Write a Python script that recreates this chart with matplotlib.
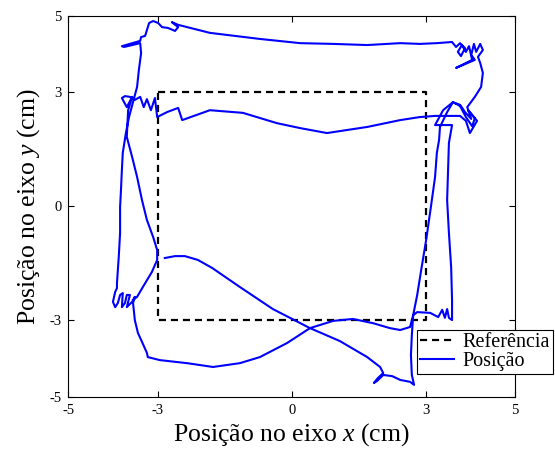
import numpy as np
import matplotlib.pyplot as plt

plt.rcParams['font.family'] = ['Liberation Serif', 'DejaVu Serif']
plt.rcParams['mathtext.fontset'] = 'custom'
plt.rcParams['mathtext.rm'] = 'Liberation Serif'
plt.rcParams['mathtext.it'] = 'Liberation Serif:italic'
plt.rcParams['axes.unicode_minus'] = False

# reference square (cm)
ref_x = [-3, 3, 3, -3, -3]
ref_y = [3, 3, -3, -3, 3]

# measured position of the end effector (cm)
pos_x = [-2.84, -2.61, -2.39, -2.10, -1.78, -1.16, -0.42, 0.41, 1.08, 1.69,
         1.98, 2.05, 1.93, 1.84, 1.91, 2.05, 2.25, 2.43, 2.65, 2.74,
         2.69, 2.67, 2.69, 2.72, 2.81, 2.90, 3.01, 3.12, 3.21, 3.25,
         3.30, 3.32, 3.48, 3.61, 3.77, 3.88, 4.02, 3.93, 4.10, 4.24,
         4.28, 4.22, 4.17, 4.28, 4.22, 4.13, 4.08, 4.02, 4.10, 3.68,
         4.04, 3.97, 3.90, 3.81, 3.72, 3.79, 3.88, 3.77, 3.68, 3.59,
         3.25, 2.87, 2.43, 1.69, 0.93, 0.19, -0.71, -1.83, -2.54, -2.68,
         -2.54, -2.61, -2.77, -2.90, -2.99, -3.10, -3.19, -3.24, -3.28, -3.37,
         -3.39, -3.80, -3.75, -3.39, -3.37, -3.42, -3.46, -3.55, -3.64, -3.71,
         -3.78, -3.80, -3.82, -3.84, -3.84, -3.87, -3.91, -3.91, -3.95, -4.00,
         -3.95, -3.89, -3.84, -3.78, -3.80, -3.73, -3.69, -3.62, -3.69, -3.57,
         -3.51, -3.55, -3.51, -3.44, -3.35, -3.24, -3.22, -2.95, -2.34, -1.76,
         -1.16, -0.71, -0.10, 0.41, 0.93, 1.37, 1.82, 2.20, 2.43, 2.65,
         2.72, 2.81, 3.10, 3.28, 3.37, 3.43, 3.48, 3.52, 3.59, 3.59,
         3.57, 3.52, 3.48, 3.50, 3.52, 3.59, 3.21, 3.39, 3.61, 3.77,
         3.90, 4.04, 4.10, 3.95, 4.15, 3.99, 3.90, 3.77, 3.54, 3.21,
         2.87, 2.43, 1.69, 0.79, 0.19, -0.33, -1.09, -1.83, -2.45, -2.54,
         -2.79, -3.01, -3.06, -3.15, -3.24, -3.31, -3.39, -3.51, -3.62, -3.73,
         -3.80, -3.69, -3.57, -3.66, -3.69, -3.57, -3.46, -3.35, -3.24, -3.10,
         -3.01, -3.01, -3.13, -3.33, -3.46, -3.55]
pos_y = [-1.36, -1.31, -1.31, -1.41, -1.62, -2.12, -2.70, -3.20, -3.54, -3.96,
         -4.22, -4.38, -4.51, -4.64, -4.59, -4.43, -4.46, -4.56, -4.61, -4.69,
         -4.43, -3.91, -3.38, -2.86, -2.33, -1.67, -0.89, 0.01, 0.77, 1.40,
         1.74, 2.08, 2.47, 2.73, 2.66, 2.47, 2.29, 2.60, 2.87, 3.13,
         3.50, 3.76, 3.92, 4.10, 4.26, 4.05, 4.26, 3.97, 3.84, 3.63,
         3.84, 4.20, 4.05, 4.23, 4.05, 3.94, 4.15, 4.28, 4.18, 4.31,
         4.28, 4.26, 4.28, 4.23, 4.26, 4.28, 4.39, 4.55, 4.76, 4.83,
         4.70, 4.60, 4.68, 4.70, 4.81, 4.86, 4.81, 4.62, 4.47, 4.44,
         4.34, 4.20, 4.18, 4.28, 4.02, 3.57, 3.13, 2.73, 2.34, 1.92,
         1.40, 0.95, 0.43, -0.02, -0.70, -1.33, -2.02, -2.15, -2.25, -2.51,
         -2.65, -2.54, -2.33, -2.28, -2.65, -2.54, -2.33, -2.33, -2.65, -2.51,
         -2.38, -2.54, -2.99, -3.33, -3.56, -3.85, -3.96, -4.04, -4.12, -4.22,
         -4.12, -3.96, -3.59, -3.20, -3.01, -2.96, -3.07, -3.20, -3.25, -3.17,
         -2.86, -2.78, -2.80, -2.91, -2.72, -2.93, -2.70, -2.93, -2.99, -2.46,
         -1.60, -0.70, 0.16, 0.95, 1.66, 2.13, 2.13, 2.52, 2.73, 2.63,
         2.34, 2.10, 2.31, 2.52, 2.24, 1.92, 2.24, 2.37, 2.37, 2.37,
         2.34, 2.26, 2.08, 1.92, 2.05, 2.18, 2.45, 2.52, 2.26, 2.58,
         2.47, 2.34, 2.84, 2.52, 2.81, 2.60, 2.87, 2.79, 2.87, 2.89,
         2.84, 2.60, 2.87, 2.52, 1.82, 1.29, 0.77, 0.16, -0.36, -0.81,
         -1.15, -1.41, -1.73, -2.12, -2.38, -2.46]

ticks = [-5, -3, 0, 3, 5]

fig = plt.figure(figsize=(5.55, 4.49), dpi=100)
ax = fig.add_axes([0.123, 0.1165, 0.805, 0.8485])

ax.plot(ref_x, ref_y, 'k--', lw=1.6, dashes=(3.2, 2.2), label='Referência')
ax.plot(pos_x, pos_y, color='#0000ff', lw=1.5, label='Posição')

ax.set_xlim(-5, 5)
ax.set_ylim(-5, 5)
ax.set_xticks(ticks)
ax.set_yticks(ticks)
ax.tick_params(direction='in', top=True, right=True, length=4, width=0.8,
               labelsize=10.5, pad=5)
for s in ax.spines.values():
    s.set_linewidth(0.8)

ax.set_xlabel('Posição no eixo $x$ (cm)', fontsize=18.5, labelpad=3)
ax.set_ylabel('Posição no eixo $y$ (cm)', fontsize=18.5, labelpad=5)

leg = ax.legend(loc='upper left', bbox_to_anchor=(417 / 555, 1 - 330 / 449),
                bbox_transform=fig.transFigure, fontsize=14.5, frameon=True,
                fancybox=False, edgecolor='black', framealpha=1,
                borderpad=0.15, labelspacing=0.0, handlelength=1.7,
                handletextpad=0.4, borderaxespad=0)
leg.get_frame().set_linewidth(0.8)

fig.savefig('out.png', dpi=100)
